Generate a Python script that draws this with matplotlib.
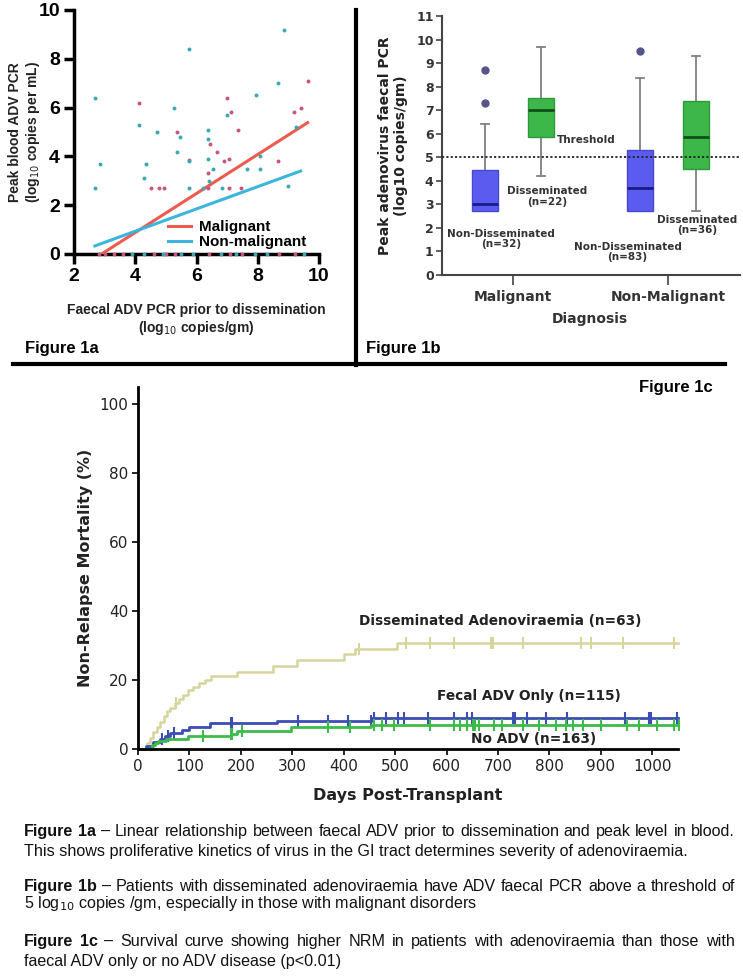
import matplotlib.pyplot as plt
import numpy as np

W, H = 743, 980
fig = plt.figure(figsize=(W / 100, H / 100), dpi=100)

# overlay in pixel coords for separators, panel tags and captions
lay = fig.add_axes([0, 0, 1, 1])
lay.set_xlim(0, W)
lay.set_ylim(H, 0)
lay.axis('off')
lay.set_zorder(10)


def box(l, t, r, b):
    return [l / W, 1 - b / H, (r - l) / W, (b - t) / H]


ARIAL = 'Liberation Sans'

# ---------------- Figure 1a data ----------------
mal_x = [4.13, 4.53, 4.76, 4.95, 5.35, 5.77, 6.38, 6.45, 6.68, 6.38, 6.9, 7.06, 7.0, 7.13,
         7.06, 7.36, 7.45, 8.65, 9.18, 9.4, 9.63,
         2.8, 3.0, 3.3, 3.6, 4.6, 5.0, 5.3, 6.4, 7.1, 7.5, 8.7, 9.2]
mal_y = [6.2, 2.7, 2.7, 2.7, 5.0, 3.85, 3.3, 4.5, 4.2, 2.7, 3.8, 3.9, 6.4, 5.8,
         2.7, 5.1, 2.7, 3.8, 5.8, 6.0, 7.1,
         0, 0, 0, 0, 0, 0, 0, 0, 0, 0, 0, 0]
non_x = [2.68, 2.84, 2.68, 5.77, 8.85, 4.13, 4.3, 4.35, 4.7, 5.25, 5.35, 5.47, 5.77, 5.77,
         6.38, 6.38, 6.38, 6.42, 6.55, 6.84, 7.0, 7.65, 7.94, 8.07, 8.07, 8.65, 8.98, 9.25, 6.2,
         3.9, 4.3, 4.9, 5.5, 5.9, 6.8, 7.3, 7.9, 8.3, 9.5]
non_y = [6.4, 3.7, 2.7, 8.4, 9.2, 5.3, 3.1, 3.7, 5.0, 6.0, 4.2, 4.8, 3.8, 2.7,
         5.1, 4.7, 3.9, 3.0, 3.5, 2.7, 5.7, 3.5, 6.5, 4.0, 3.5, 7.0, 2.8, 5.2, 2.7,
         0, 0, 0, 0, 0, 0, 0, 0, 0, 0]
# linear fits (slope, intercept) and their x ranges
mal_fit = (0.80, -2.32)
mal_range = [2.9, 9.63]
non_fit = (0.457, -0.895)
non_range = [2.68, 9.4]

# ---------------- Figure 1b data ----------------
diag_names = ['Malignant', 'Non-Malignant']
# per group: (q1, median, q3, whisker low, whisker high, outliers)
mal_nondiss = (2.7, 3.03, 4.45, 2.7, 6.4, [7.3, 8.7])
mal_diss = (5.85, 7.0, 7.52, 4.2, 9.7, [])
non_nondiss = (2.7, 3.68, 5.3, 2.7, 8.35, [9.5])
non_diss = (4.5, 5.85, 7.4, 2.7, 9.3, [])
threshold = 5

# ---------------- Figure 1c data ----------------
dis_t = [0, 17, 23, 29, 36, 43, 50, 56, 63, 72, 80, 88, 97, 107, 118, 131, 142, 192, 262, 310, 400, 421, 503]
dis_p = [0, 1.6, 3.2, 4.8, 6.3, 7.9, 9.5, 11.0, 12.0, 13.4, 14.6, 15.8, 17.0, 18.1, 19.1, 20.1, 21.1, 22.4,
         24.0, 25.8, 27.6, 29.1, 30.8]
dis_cens = [74, 429, 522, 567, 615, 686, 690, 748, 861, 881, 943, 1043]
fec_t = [0, 15, 30, 42, 52, 62, 85, 100, 140, 270, 455]
fec_p = [0, 0.8, 1.9, 2.9, 3.9, 4.7, 5.6, 6.5, 7.4, 8.2, 8.9]
fec_cens = [46, 58, 70, 180, 183, 311, 369, 409, 454, 458, 482, 506, 518, 563, 615, 639, 650,
            730, 734, 756, 794, 835, 946, 994, 998, 1048]
noadv_t = [0, 28, 33, 38, 55, 98, 180, 193, 297, 454]
noadv_p = [0, 1.2, 1.8, 2.4, 3.0, 3.7, 4.4, 5.3, 6.3, 7.1]
noadv_cens = [127, 180, 183, 203, 369, 413, 458, 474, 498, 567, 615, 627, 639, 651, 656, 663, 692,
              708, 748, 780, 813, 833, 845, 865, 901, 950, 974, 1010, 1043, 1051]

# ================= Figure 1a =================
ax1 = fig.add_axes(box(74, 10, 319, 254))
ax1.scatter(mal_x, mal_y, s=8, color='#c8567a', zorder=4, clip_on=False, lw=0)
ax1.scatter(non_x, non_y, s=8, color='#3aa8b8', zorder=4, clip_on=False, lw=0)
xm = np.array(mal_range)
xn = np.array(non_range)
ax1.plot(xm, mal_fit[0] * xm + mal_fit[1], color='#ec5b50', lw=2.2, label='Malignant', zorder=3)
ax1.plot(xn, non_fit[0] * xn + non_fit[1], color='#3cb4dc', lw=2.2, label='Non-malignant', zorder=3)
ax1.set_xlim(2, 10)
ax1.set_ylim(0, 10)
ax1.set_xticks([2, 4, 6, 8, 10])
ax1.set_yticks([0, 2, 4, 6, 8, 10])
for s in ['top', 'right']:
    ax1.spines[s].set_visible(False)
for s in ['left', 'bottom']:
    ax1.spines[s].set_linewidth(2.5)
ax1.tick_params(width=2.5, length=7, labelsize=14, pad=3)
for lab in ax1.get_xticklabels() + ax1.get_yticklabels():
    lab.set_fontweight('bold')
    lab.set_family(ARIAL)
ax1.set_xlabel('Faecal ADV PCR prior to dissemination\n(log$_{10}$ copies/gm)',
               fontsize=10, fontweight='bold', family=ARIAL, color='#222', va='top')
ax1.xaxis.set_label_coords(0.5, -0.2)
ax1.set_ylabel('Peak blood ADV PCR\n(log$_{10}$ copies per mL)',
               fontsize=10, fontweight='bold', family=ARIAL, color='#222')
ax1.yaxis.set_label_coords(-0.13, 0.5)
leg = ax1.legend(loc='lower left', bbox_to_anchor=(0.385, 0.02), frameon=False, borderpad=0,
                 borderaxespad=0, handlelength=1.5, handletextpad=0.5, labelspacing=0.05,
                 prop={'family': ARIAL, 'weight': 'bold', 'size': 11})

# ================= Figure 1b =================
ax2 = fig.add_axes(box(442, 16, 740, 275))
groups = [mal_nondiss, mal_diss, non_nondiss, non_diss]
pos = [-0.18, 0.18, 0.82, 1.18]
stats = [dict(q1=g[0], med=g[1], q3=g[2], whislo=g[3], whishi=g[4], fliers=g[5]) for g in groups]
bp = ax2.bxp(stats, positions=pos, widths=0.17, patch_artist=True, capwidths=0.055,
             showfliers=True,
             whiskerprops=dict(color='#808080', lw=1.3),
             capprops=dict(color='#808080', lw=1.3),
             flierprops=dict(marker='o', markersize=5, markerfacecolor='#55558a',
                             markeredgecolor='#55558a'))
fills = ['#5b5bef', '#3db64a', '#5b5bef', '#3db64a']
edges = ['#4747cf', '#2e9a3b', '#4747cf', '#2e9a3b']
meds = ['#1a1a88', '#0f4f18', '#1a1a88', '#0f4f18']
for b, f, e in zip(bp['boxes'], fills, edges):
    b.set_facecolor(f)
    b.set_edgecolor(e)
    b.set_linewidth(1)
    b.set_zorder(3)
for m, c in zip(bp['medians'], meds):
    m.set_color(c)
    m.set_linewidth(2)
    m.set_zorder(4)
ax2.axhline(threshold, color='#222', ls=(0, (1.2, 1.2)), lw=1.3, zorder=5)
ax2.set_xlim(-0.458, 1.465)
ax2.set_ylim(0, 11)
ax2.set_yticks(range(0, 12))
ax2.set_xticks([0, 1], diag_names)
for s in ['top', 'right']:
    ax2.spines[s].set_visible(False)
for s in ['left', 'bottom']:
    ax2.spines[s].set_linewidth(1.5)
    ax2.spines[s].set_color('#444')
ax2.tick_params(axis='y', length=4, width=1.2, color='#444', labelsize=9, labelcolor='#333', pad=2)
ax2.tick_params(axis='x', length=7, width=1.2, color='#444', labelsize=10, labelcolor='#333', pad=4)
for lab in ax2.get_xticklabels() + ax2.get_yticklabels():
    lab.set_fontweight('bold')
ax2.set_xlabel('Diagnosis', fontsize=10, fontweight='bold', color='#333', va='top')
ax2.xaxis.set_label_coords(0.497, -0.143)
ax2.set_ylabel('Peak adenovirus faecal PCR\n(log10 copies/gm)', fontsize=10, fontweight='bold', color='#222')
ax2.yaxis.set_label_coords(-0.115, 0.5)
ann = dict(fontsize=7.5, fontweight='bold', color='#333', ha='center', va='center', linespacing=1.1)
ax2.text(0.47, 5.73, 'Threshold', **ann)
ax2.text(0.22, 3.35, 'Disseminated\n(n=22)', **ann)
ax2.text(-0.077, 1.53, 'Non-Disseminated\n(n=32)', **ann)
ax2.text(0.74, 0.98, 'Non-Disseminated\n(n=83)', **ann)
ax2.text(1.19, 2.12, 'Disseminated\n(n=36)', **ann)

# ================= Figure 1c =================
ax3 = fig.add_axes(box(138, 387, 678, 749))


def step_at(t, times, vals):
    idx = np.searchsorted(times, t, side='right') - 1
    return np.asarray(vals)[idx]


curves = [
    (dis_t, dis_p, dis_cens, '#d7d49c', 1.8),
    (fec_t, fec_p, fec_cens, '#3d4db5', 2.0),
    (noadv_t, noadv_p, noadv_cens, '#3dbb4a', 2.0),
]
for t, p, cens, col, lw in curves:
    tt = list(t) + [1050]
    pp = list(p) + [p[-1]]
    ax3.step(tt, pp, where='post', color=col, lw=lw, clip_on=False)
    ax3.plot(cens, step_at(np.array(cens), t, p), ls='none', marker='|', ms=9, mew=1.5,
             color=col, clip_on=False)
ax3.set_xlim(0, 1050)
ax3.set_ylim(0, 105)
ax3.set_xticks(range(0, 1001, 100))
ax3.set_yticks(range(0, 101, 20))
for s in ['top', 'right']:
    ax3.spines[s].set_visible(False)
for s in ['left', 'bottom']:
    ax3.spines[s].set_linewidth(2)
ax3.tick_params(length=4, width=1.2, labelsize=11, labelcolor='#222', pad=3)
ax3.set_xlabel('Days Post-Transplant', fontsize=11.5, fontweight='bold', color='#222', va='top')
ax3.xaxis.set_label_coords(0.5, -0.108)
ax3.set_ylabel('Non-Relapse Mortality (%)', fontsize=11.5, fontweight='bold', color='#222')
ax3.yaxis.set_label_coords(-0.083, 0.5)
lab3 = dict(fontsize=9.8, fontweight='bold', color='#222', ha='center', va='center')
ax3.text(705, 37.1, 'Disseminated Adenoviraemia (n=63)', **lab3)
ax3.text(760, 15.5, 'Fecal ADV Only (n=115)', **lab3)
ax3.text(770, 2.9, 'No ADV (n=163)', **lab3)

# ================= separators, tags and captions =================
lay.plot([356, 356], [10, 365], color='black', lw=3)
lay.plot([13, 725], [364, 364], color='black', lw=3)
tag = dict(fontsize=12, fontweight='bold', family=ARIAL, va='center')
lay.text(25, 348, 'Figure 1a', **tag)
lay.text(366, 348, 'Figure 1b', **tag)
lay.text(713, 387, 'Figure 1c', ha='right', **tag)

CAP = 11.6
renderer = fig.canvas.get_renderer()


def justify(y, bold, rest, left=24, right=735):
    words = [(w, 'bold') for w in bold.split()] + [(w, 'normal') for w in rest.split()]
    texts = [lay.text(0, y, w, fontsize=CAP, fontweight=wt, family=ARIAL, va='bottom', color='#111')
             for w, wt in words]
    widths = [tx.get_window_extent(renderer).width for tx in texts]
    gap = (right - left - sum(widths)) / (len(words) - 1)
    x = left
    for tx, w in zip(texts, widths):
        tx.set_x(x)
        x += w + gap


def plain(y, s):
    lay.text(24, y, s, fontsize=CAP, family=ARIAL, va='bottom', color='#111')


justify(839, 'Figure 1a', '\u2013 Linear relationship between faecal ADV prior to dissemination and peak level in blood.')
plain(859, 'This shows proliferative kinetics of virus in the GI tract determines severity of adenoviraemia.')
justify(894, 'Figure 1b', '\u2013 Patients with disseminated adenoviraemia have ADV faecal PCR above a threshold of')
plain(913, '5 log$_{10}$ copies /gm, especially in those with malignant disorders')
justify(949, 'Figure 1c', '\u2013 Survival curve showing higher NRM in patients with adenoviraemia than those with')
plain(969, 'faecal ADV only or no ADV disease (p<0.01)')

fig.savefig('out.png', dpi=100)
